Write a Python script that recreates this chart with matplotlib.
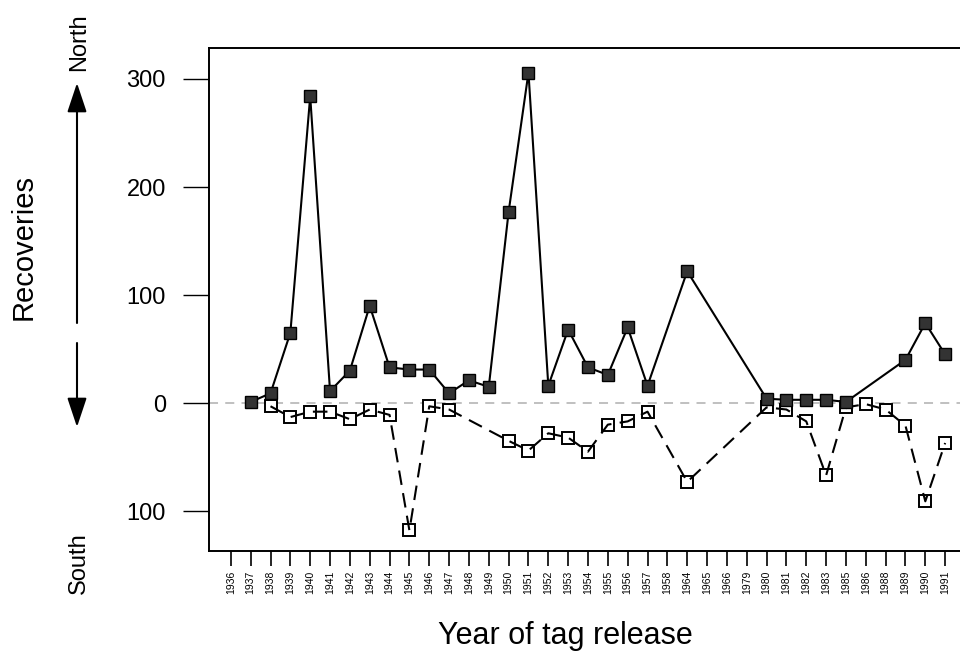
import numpy as np
import matplotlib
matplotlib.use("Agg")
import matplotlib.pyplot as plt
from matplotlib.patches import FancyArrowPatch

plt.rcParams['font.family'] = ['Liberation Sans', 'DejaVu Sans']

years = ['1936', '1937', '1938', '1939', '1940', '1941', '1942', '1943', '1944',
         '1945', '1946', '1947', '1948', '1949', '1950', '1951', '1952', '1953',
         '1954', '1955', '1956', '1957', '1958', '1964', '1965', '1966', '1979',
         '1980', '1981', '1982', '1983', '1985', '1986', '1988', '1989', '1990',
         '1991']

# recoveries to the north (None = no data for that year)
north = [None, 1, 9, 65, 284, 11, 30, 90, 33, 31, 31, 9, 21, 15, 177, 306, 16,
         68, 33, 26, 70, 16, None, 122, None, None, None, 4, 3, 3, 3, 1, None,
         None, 40, 74, 45]
# recoveries to the south (plotted downward)
south = [None, None, 3, 13, 8, 8, 15, 6, 11, 118, 3, 6, None, None, 35, 44, 28,
         32, 45, 20, 17, 8, None, 73, None, None, None, 4, 6, 17, 67, 4, 1, 6,
         21, 91, 37]

nx = [i for i, v in enumerate(north) if v is not None]
ny = [v for v in north if v is not None]
sx = [i for i, v in enumerate(south) if v is not None]
sy = [-v for v in south if v is not None]

fig = plt.figure(figsize=(9.6, 6.62), dpi=100)
ax = fig.add_axes([209 / 960, 1 - 551 / 662, (965 - 209) / 960, (551 - 48) / 662])

ax.axhline(0, color='#bbbbbb', lw=1.3, ls=(0, (5, 4)), zorder=1)

ax.plot(sx, sy, color='black', lw=1.5, ls=(0, (7, 4)), zorder=3)
ax.plot(sx, sy, ls='none', marker='s', ms=9, mfc='white', mec='black',
        mew=1.4, zorder=2)
ax.plot(nx, ny, color='black', lw=1.5, marker='s', ms=8.5, mfc='#333333',
        mec='black', mew=1, zorder=4)

ax.set_xlim(-1.1, 37.0)
ax.set_ylim(-137, 328.7)
ax.set_xticks(range(len(years)))
ax.set_xticklabels(years, rotation=90, fontsize=7.5)
ax.set_yticks([300, 200, 100, 0, -100])
ax.set_yticklabels(['300', '200', '100', '0', '100'], fontsize=17)
ax.tick_params(axis='y', length=19, width=1, pad=12)
ax.tick_params(axis='x', length=11, width=1.2, pad=3)
for s in ['left', 'top', 'bottom']:
    ax.spines[s].set_linewidth(1.4)
ax.spines['right'].set_visible(False)

fig.text(565 / 960, 1 - 636 / 662, 'Year of tag release', fontsize=22,
         ha='center', va='center')
fig.text(24 / 960, 1 - 247 / 662, 'Recoveries', fontsize=21, rotation=90,
         ha='center', va='center')
fig.text(79 / 960, 1 - 42 / 662, 'North', fontsize=17, rotation=90,
         ha='center', va='center')
fig.text(79 / 960, 1 - 563 / 662, 'South', fontsize=17, rotation=90,
         ha='center', va='center')

arrow = dict(arrowstyle='-|>,head_length=0.9,head_width=0.3',
             mutation_scale=20, color='black', lw=1.5, shrinkA=0, shrinkB=0,
             transform=fig.transFigure)
fig.add_artist(FancyArrowPatch((77 / 960, 1 - 323 / 662),
                               (77 / 960, 1 - 83 / 662), **arrow))
fig.add_artist(FancyArrowPatch((77 / 960, 1 - 343 / 662),
                               (77 / 960, 1 - 427 / 662), **arrow))

fig.savefig('out.png', dpi=100)
